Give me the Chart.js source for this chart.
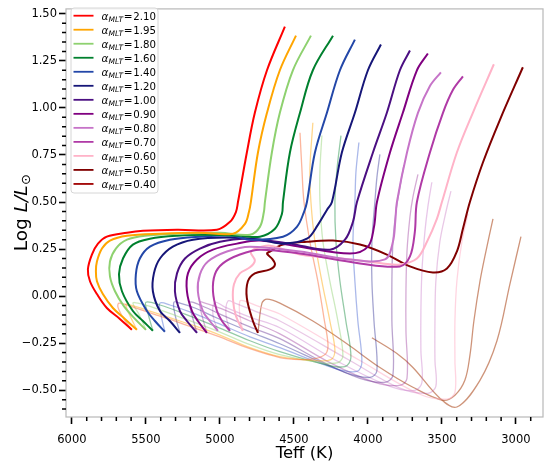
<!DOCTYPE html>
<html>
<head>
<meta charset="utf-8">
<script src="https://cdn.jsdelivr.net/npm/chart.js@4.4.1/dist/chart.umd.min.js"></script>
<style>
html,body{margin:0;padding:0;background:#fff;}
#wrap{width:550px;height:466px;}
</style>
</head>
<body>
<div id="wrap"><canvas id="c" width="550" height="466"></canvas></div>
<script>
// alpha_MLT values (legend labels)
const alphas = ['2.10','1.95','1.80','1.60','1.40','1.20','1.00','0.90','0.80','0.70','0.60','0.50','0.40'];

// Main-sequence + giant-branch tracks [Teff, logL]
const ms210 = [[5595,-0.179],[5676,-0.121],[5764,-0.063],[5831,0.011],[5878,0.079],[5892,0.142],[5865,0.221],[5824,0.279],[5764,0.316],[5628,0.337],[5520,0.347],[5290,0.353],[5020,0.353],[4932,0.395],[4892,0.447],[4878,0.5],[4818,0.763],[4764,0.974],[4682,1.2],[4561,1.432]];
const ms195 = [[5561,-0.179],[5642,-0.121],[5723,-0.063],[5791,0.011],[5831,0.079],[5838,0.132],[5831,0.184],[5797,0.253],[5743,0.295],[5628,0.321],[5405,0.332],[5135,0.337],[4912,0.332],[4831,0.384],[4804,0.447],[4791,0.5],[4743,0.763],[4682,0.974],[4595,1.2],[4486,1.384]];
const ms180 = [[5500,-0.179],[5574,-0.121],[5649,-0.053],[5709,0.026],[5743,0.105],[5743,0.184],[5703,0.253],[5628,0.3],[5507,0.321],[5270,0.332],[5000,0.337],[4797,0.326],[4730,0.368],[4703,0.447],[4696,0.5],[4649,0.763],[4595,0.974],[4507,1.2],[4385,1.384]];
const ms160 = [[5453,-0.184],[5520,-0.132],[5588,-0.079],[5662,0.026],[5682,0.116],[5655,0.2],[5588,0.274],[5473,0.305],[5290,0.321],[5068,0.326],[4865,0.321],[4730,0.316],[4628,0.358],[4581,0.437],[4574,0.5],[4527,0.763],[4459,0.974],[4372,1.2],[4236,1.384]];
const ms140 = [[5372,-0.189],[5439,-0.132],[5493,-0.079],[5561,0.026],[5568,0.116],[5541,0.2],[5473,0.263],[5338,0.3],[5135,0.316],[4912,0.321],[4797,0.3],[4574,0.316],[4480,0.368],[4432,0.447],[4412,0.5],[4358,0.763],[4277,0.974],[4189,1.2],[4088,1.363]];
const ms120 = [[5270,-0.195],[5338,-0.132],[5405,-0.079],[5453,0.026],[5446,0.121],[5405,0.2],[5318,0.263],[5182,0.3],[4953,0.311],[4730,0.3],[4574,0.279],[4412,0.305],[4338,0.379],[4277,0.458],[4243,0.5],[4176,0.763],[4088,0.974],[4000,1.2],[3912,1.337]];
const ms100 = [[5155,-0.195],[5223,-0.132],[5270,-0.079],[5304,0.026],[5290,0.121],[5236,0.2],[5135,0.253],[5000,0.289],[4818,0.305],[4527,0.279],[4257,0.247],[4155,0.3],[4101,0.395],[4074,0.5],[3966,0.763],[3872,0.974],[3784,1.2],[3716,1.305]];
const ms090 = [[5088,-0.195],[5149,-0.132],[5189,-0.079],[5223,0.026],[5216,0.121],[5155,0.195],[5047,0.247],[4885,0.279],[4730,0.295],[4459,0.263],[4122,0.226],[4000,0.263],[3959,0.368],[3939,0.5],[3851,0.763],[3764,0.974],[3669,1.2],[3595,1.289]];
const ms080 = [[5014,-0.184],[5068,-0.132],[5115,-0.079],[5149,0.026],[5135,0.116],[5081,0.184],[4953,0.237],[4797,0.263],[4459,0.237],[4122,0.195],[3885,0.195],[3831,0.289],[3815,0.4],[3804,0.5],[3736,0.763],[3662,0.974],[3581,1.116],[3507,1.189]];
const ms070 = [[4932,-0.184],[4986,-0.132],[5020,-0.079],[5047,0.026],[5034,0.116],[4980,0.174],[4865,0.221],[4730,0.247],[4459,0.226],[4054,0.174],[3784,0.158],[3716,0.211],[3683,0.342],[3669,0.5],[3581,0.763],[3493,0.974],[3426,1.095],[3358,1.168]];
const ms060 = [[4845,-0.184],[4892,-0.105],[4912,-0.016],[4905,0.063],[4865,0.121],[4797,0.153],[4764,0.189],[4791,0.232],[4757,0.253],[4662,0.268],[4459,0.221],[4122,0.195],[3899,0.174],[3784,0.168],[3669,0.2],[3601,0.289],[3534,0.411],[3500,0.5],[3399,0.763],[3291,0.974],[3149,1.232]];
const ms050 = [[4743,-0.195],[4777,-0.132],[4818,-0.011],[4811,0.079],[4764,0.121],[4662,0.142],[4628,0.168],[4649,0.2],[4682,0.226],[4662,0.237],[4574,0.274],[4412,0.289],[4236,0.295],[4054,0.274],[3872,0.221],[3716,0.158],[3561,0.126],[3466,0.147],[3399,0.237],[3358,0.358],[3311,0.5],[3223,0.71],[3108,0.937],[2953,1.216]];
const ms040 = [];

// Pre-main-sequence tracks [Teff, logL]
const pms210 = [[4459,0.868],[4446,0.674],[4432,0.5],[4392,0.289],[4338,0.079],[4297,-0.116],[4270,-0.253],[4284,-0.305],[4358,-0.332],[4459,-0.337],[4595,-0.326],[4797,-0.279],[5020,-0.211],[5270,-0.142],[5473,-0.089],[5608,-0.053],[5682,-0.037],[5689,-0.058],[5649,-0.121],[5595,-0.179]];
const pms195 = [[4372,0.921],[4392,0.674],[4385,0.5],[4358,0.289],[4311,0.079],[4257,-0.132],[4223,-0.289],[4250,-0.337],[4358,-0.342],[4595,-0.321],[4797,-0.274],[5020,-0.2],[5270,-0.132],[5473,-0.079],[5608,-0.047],[5635,-0.042],[5622,-0.079],[5561,-0.179]];
const pms180 = [[4311,0.853],[4324,0.674],[4324,0.5],[4304,0.289],[4257,0.079],[4203,-0.132],[4169,-0.316],[4203,-0.353],[4324,-0.353],[4595,-0.311],[4797,-0.258],[5020,-0.184],[5270,-0.111],[5439,-0.063],[5554,-0.037],[5588,-0.037],[5541,-0.105],[5500,-0.179]];
const pms160 = [[4182,0.853],[4209,0.674],[4223,0.5],[4216,0.289],[4189,0.079],[4149,-0.132],[4115,-0.326],[4155,-0.374],[4291,-0.363],[4595,-0.295],[4797,-0.237],[5020,-0.163],[5236,-0.095],[5405,-0.047],[5500,-0.032],[5487,-0.089],[5453,-0.184]];
const pms140 = [[4061,0.816],[4081,0.658],[4088,0.5],[4101,0.289],[4088,0.079],[4068,-0.132],[4041,-0.353],[4074,-0.4],[4223,-0.384],[4595,-0.274],[4797,-0.216],[5020,-0.142],[5203,-0.084],[5338,-0.047],[5405,-0.037],[5399,-0.095],[5372,-0.189]];
const pms120 = [[3919,0.753],[3939,0.632],[3953,0.5],[3973,0.289],[3973,0.079],[3959,-0.132],[3939,-0.395],[3986,-0.432],[4155,-0.405],[4595,-0.253],[4797,-0.189],[5020,-0.116],[5169,-0.063],[5270,-0.037],[5311,-0.032],[5304,-0.095],[5270,-0.195]];
const pms100 = [[3757,0.695],[3784,0.579],[3811,0.447],[3831,0.289],[3838,0.079],[3838,-0.132],[3831,-0.421],[3885,-0.458],[4054,-0.437],[4324,-0.342],[4595,-0.226],[4797,-0.163],[5000,-0.095],[5135,-0.047],[5203,-0.032],[5189,-0.1],[5155,-0.195]];
const pms090 = [[3662,0.647],[3696,0.526],[3716,0.421],[3736,0.237],[3743,0.026],[3743,-0.184],[3736,-0.437],[3784,-0.474],[3953,-0.458],[4257,-0.353],[4595,-0.2],[4797,-0.132],[4986,-0.068],[5101,-0.037],[5135,-0.032],[5122,-0.1],[5088,-0.195]];
const pms080 = [[3568,0.605],[3595,0.474],[3615,0.342],[3635,0.132],[3642,-0.079],[3642,-0.289],[3635,-0.458],[3683,-0.5],[3851,-0.479],[4189,-0.353],[4595,-0.168],[4797,-0.111],[4966,-0.058],[5034,-0.032],[5047,-0.1],[5014,-0.184]];
const pms070 = [[3439,0.558],[3473,0.447],[3514,0.289],[3541,0.079],[3547,-0.132],[3547,-0.342],[3541,-0.479],[3595,-0.516],[3784,-0.489],[4122,-0.342],[4595,-0.132],[4764,-0.079],[4899,-0.037],[4946,-0.026],[4959,-0.1],[4932,-0.184]];
const pms060 = [[3324,0.437],[3365,0.289],[3399,0.079],[3412,-0.132],[3412,-0.342],[3412,-0.511],[3466,-0.547],[3649,-0.521],[4054,-0.342],[4595,-0.095],[4743,-0.053],[4831,-0.026],[4865,-0.026],[4865,-0.105],[4845,-0.184]];
const pms050 = [[3155,0.411],[3203,0.237],[3243,0.079],[3284,-0.132],[3311,-0.316],[3345,-0.447],[3412,-0.526],[3493,-0.553],[3696,-0.484],[3919,-0.379],[4142,-0.253],[4372,-0.132],[4595,-0.037],[4682,-0.016],[4716,-0.037],[4743,-0.195]];
const pms040 = [[2966,0.316],[3041,0.063],[3128,-0.237],[3243,-0.447],[3399,-0.589],[3514,-0.542],[3696,-0.379],[3804,-0.305],[3973,-0.221]];

// tick labels
const xTickValues = [6000,5500,5000,4500,4000,3500,3000];
const yTickValues = [-0.50,-0.25,0.00,0.25,0.50,0.75,1.00,1.25,1.50];

const msTracks = [ms210,ms195,ms180,ms160,ms140,ms120,ms100,ms090,ms080,ms070,ms060,ms050,ms040];
const pmsTracks = [pms210,pms195,pms180,pms160,pms140,pms120,pms100,pms090,pms080,pms070,pms060,pms050,pms040];

const boldColors = ['#ff0000','#ffa500','#8ed16f','#00802e','#2347a8','#161678','#4b0f82','#800080','#c674c8','#b03aa6','#ffb3c8','#800000','#a00000'];
const faintColors = ['rgba(250,110,60,0.5)','rgba(255,165,0,0.45)','rgba(142,209,111,0.45)','rgba(0,128,46,0.42)','rgba(35,71,200,0.38)','rgba(30,30,140,0.4)','rgba(75,15,130,0.38)','rgba(128,0,128,0.33)','rgba(198,116,200,0.4)','rgba(176,58,166,0.28)','rgba(255,179,200,0.55)','rgba(180,90,50,0.65)','rgba(180,90,50,0.65)'];

const datasets = [];
alphas.forEach((a,i)=>{
  datasets.push({
    label: 'α_MLT = ' + a,
    data: msTracks[i].map(p=>({x:p[0],y:p[1]})),
    showLine:true, borderColor: boldColors[i], backgroundColor: boldColors[i],
    borderWidth: 2, pointRadius:0, tension:0.35, order:0, isMain:true
  });
});
alphas.forEach((a,i)=>{
  datasets.push({
    label: 'pms ' + a,
    data: pmsTracks[i].map(p=>({x:p[0],y:p[1]})),
    showLine:true, borderColor: faintColors[i], borderWidth: 1.3,
    pointRadius:0, tension:0.35, order:1, isMain:false
  });
});

const FONT = 'DejaVu Sans';

const decor = {
  id:'decor',
  afterDraw(chart){
    const ctx = chart.ctx, ca = chart.chartArea;
    const xs = chart.scales.x, ys = chart.scales.y;
    ctx.save();
    // frame
    ctx.strokeStyle = '#b8b8b8'; ctx.lineWidth = 1.2;
    ctx.strokeRect(ca.left, ca.top, ca.right-ca.left, ca.bottom-ca.top);
    // minor ticks
    ctx.strokeStyle = '#000'; ctx.lineWidth = 1.5;
    ctx.beginPath();
    for (let t = 2900; t <= 6000; t += 100) {
      if (t % 500 === 0) continue;
      const px = xs.getPixelForValue(t);
      ctx.moveTo(px, ca.bottom); ctx.lineTo(px, ca.bottom+4);
    }
    for (let k = -12; k <= 30; k++) {
      if (k % 5 === 0) continue;
      const py = ys.getPixelForValue(k*0.05);
      if (py > ca.bottom || py < ca.top) continue;
      ctx.moveTo(ca.left, py); ctx.lineTo(ca.left-4, py);
    }
    ctx.stroke();
    // y title
    ctx.fillStyle = '#000';
    ctx.translate(22, (ca.top+ca.bottom)/2);
    ctx.rotate(-Math.PI/2);
    ctx.textBaseline = 'middle';
    const f1 = '18.5px "' + FONT + '"', f2 = 'italic 18.5px "' + FONT + '"', f3 = '13px "' + FONT + '"';
    ctx.font = f1; const w1 = ctx.measureText('Log ').width;
    ctx.font = f2; const w2 = ctx.measureText('L/L').width;
    ctx.font = f3; const w3 = ctx.measureText('⊙').width;
    let x0 = -(w1+w2+w3)/2;
    ctx.font = f1; ctx.fillText('Log ', x0, 0); x0 += w1;
    ctx.font = f2; ctx.fillText('L/L', x0, 0); x0 += w2;
    ctx.font = f3; ctx.fillText('⊙', x0+0.5, 5);
    ctx.restore();

    // legend
    ctx.save();
    const mains = chart.data.datasets.filter(d=>d.isMain);
    const bx = 71, by = 8, bw = 87, bh = 185;
    ctx.fillStyle = 'rgba(255,255,255,0.8)';
    ctx.strokeStyle = '#d6d6d6'; ctx.lineWidth = 1;
    ctx.beginPath();
    if (ctx.roundRect) ctx.roundRect(bx, by, bw, bh, 3); else ctx.rect(bx,by,bw,bh);
    ctx.fill(); ctx.stroke();
    mains.forEach((d,i)=>{
      const y = 15.7 + i*14.02;
      ctx.strokeStyle = d.borderColor; ctx.lineWidth = 1.8;
      ctx.beginPath(); ctx.moveTo(73.5, y); ctx.lineTo(93.5, y); ctx.stroke();
      const val = d.label.split('= ')[1];
      ctx.fillStyle = '#000'; ctx.textBaseline = 'alphabetic';
      let tx = 101.5, base = y + 3.8;
      ctx.font = 'italic 10.5px "' + FONT + '"'; ctx.fillText('α', tx, base); tx += ctx.measureText('α').width;
      ctx.font = 'italic 7.5px "' + FONT + '"'; ctx.fillText('MLT', tx, base + 2); tx += ctx.measureText('MLT').width + 0.5;
      ctx.font = '10.5px "' + FONT + '"'; ctx.fillText('=', tx, base); tx += ctx.measureText('=').width + 0.8;
      ctx.font = '10.2px "' + FONT + '"'; ctx.fillText(val, tx, base);
    });
    ctx.restore();
  }
};

new Chart(document.getElementById('c'), {
  type:'scatter',
  data:{datasets},
  options:{
    responsive:false, animation:false, devicePixelRatio:1,
    layout:{padding:{top:4,right:7,left:0,bottom:0}},
    plugins:{legend:{display:false}, tooltip:{enabled:false}},
    scales:{
      x:{
        type:'linear', reverse:true, min:2817, max:6040,
        afterBuildTicks:(s)=>{ s.ticks = xTickValues.map(v=>({value:v})); },
        afterFit:(s)=>{s.height = 49;},
        border:{display:false},
        grid:{drawOnChartArea:false, drawTicks:true, tickLength:7, tickWidth:1.6, tickColor:'#000'},
        ticks:{color:'#000', padding:9, maxRotation:0, autoSkip:false,
          font:{family:FONT, size:11.5},
          callback:(v)=> String(v)},
        title:{display:true, text:'Teff (K)', color:'#000', font:{family:FONT, size:16.5}, padding:{top:0,bottom:2}}
      },
      y:{
        type:'linear', min:-0.642, max:1.526,
        afterBuildTicks:(s)=>{ s.ticks = yTickValues.map(v=>({value:v})); },
        afterFit:(s)=>{s.width = 66;},
        border:{display:false},
        grid:{drawOnChartArea:false, drawTicks:true, tickLength:7, tickWidth:1.6, tickColor:'#000'},
        ticks:{color:'#000', padding:2, autoSkip:false,
          font:{family:FONT, size:11.5},
          callback:(v)=> (v<0?'\u2212':'') + Math.abs(v).toFixed(2)}
      }
    }
  },
  plugins:[decor]
});
</script>
</body>
</html>
